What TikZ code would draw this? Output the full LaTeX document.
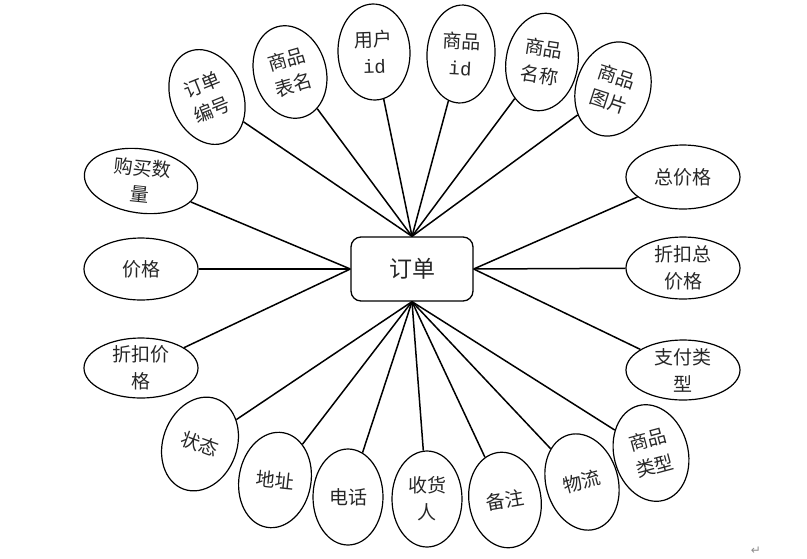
\documentclass[tikz,border=0pt]{standalone}
\usepackage{fontspec}
\newfontfamily\cjk{Noto Sans CJK SC}
\newfontfamily\monofnt{Liberation Mono}
\newfontfamily\symfnt{DejaVu Sans}
\usetikzlibrary{shapes.geometric}
\begin{document}
\begin{tikzpicture}[x=1pt,y=-1pt,
  attr/.style={draw, ellipse, line width=1.2pt, inner sep=0pt},
  lbl/.style={font=\cjk\fontsize{19}{27}\selectfont, align=center, inner sep=0pt, text=black!85},
  conn/.style={line width=1.5pt},
  mainbox/.style={draw, line width=1.3pt, rounded corners=10pt, minimum width=122pt, minimum height=64pt, font=\cjk\fontsize{23}{27}\selectfont, text=black!85}
]
\useasboundingbox (0,0) rectangle (807,558);
\node[mainbox] (c) at (412,269) {订单};
% top
\node[attr, minimum width=72pt, minimum height=98pt, rotate=22] (e1) at (207,97) {};
\node[lbl, rotate=22] (t1) at (e1) {订单\\编号};
\node[attr, minimum width=72pt, minimum height=94pt, rotate=16] (e2) at (290,72) {};
\node[lbl, rotate=16] (t2) at (e2) {商品\\表名};
\node[attr, minimum width=72pt, minimum height=96pt, rotate=2] (e3) at (374,52) {};
\node[lbl, rotate=2] (t3) at (e3) {用户\\{\monofnt id}};
\node[attr, minimum width=68pt, minimum height=98pt, rotate=-3] (e4) at (461,54) {};
\node[lbl, rotate=-3] (t4) at (e4) {商品\\{\monofnt id}};
\node[attr, minimum width=72pt, minimum height=98pt, rotate=-9] (e5) at (542,62) {};
\node[lbl, rotate=-9] (t5) at (e5) {商品\\名称};
\node[attr, minimum width=74pt, minimum height=96pt, rotate=-18] (e6) at (613,89) {};
\node[lbl, rotate=-18] (t6) at (e6) {商品\\图片};
% left
\node[attr, minimum width=114pt, minimum height=64pt, rotate=-8] (e7) at (141,181) {};
\node[lbl, rotate=-6] (t7) at (e7) {购买数\\量};
\node[attr, minimum width=114pt, minimum height=62pt] (e8) at (141,269) {};
\node[lbl] (t8) at (e8) {价格};
\node[attr, minimum width=114pt, minimum height=60pt] (e9) at (141,368) {};
\node[lbl] (t9) at (e9) {折扣价\\格};
% right
\node[attr, minimum width=114pt, minimum height=64pt] (e10) at (683,177) {};
\node[lbl] (t10) at (e10) {总价格};
\node[attr, minimum width=114pt, minimum height=62pt] (e11) at (683,268) {};
\node[lbl] (t11) at (e11) {折扣总\\价格};
\node[attr, minimum width=114pt, minimum height=60pt] (e12) at (683,370) {};
\node[lbl] (t12) at (e12) {支付类\\型};
% bottom
\node[attr, minimum width=74pt, minimum height=96pt, rotate=-20] (e13) at (200,444) {};
\node[lbl, rotate=-20] (t13) at (e13) {状态};
\node[attr, minimum width=72pt, minimum height=96pt, rotate=-10] (e14) at (275,480) {};
\node[lbl, rotate=-6] (t14) at (e14) {地址};
\node[attr, minimum width=70pt, minimum height=96pt] (e15) at (348,497) {};
\node[lbl] (t15) at (e15) {电话};
\node[attr, minimum width=70pt, minimum height=96pt] (e16) at (427,499) {};
\node[lbl] (t16) at (e16) {收货\\人};
\node[attr, minimum width=72pt, minimum height=96pt, rotate=9] (e17) at (505,500) {};
\node[lbl, rotate=10] (t17) at (e17) {备注};
\node[attr, minimum width=72pt, minimum height=98pt, rotate=16] (e18) at (582,482) {};
\node[lbl, rotate=15] (t18) at (e18) {物流};
\node[attr, minimum width=74pt, minimum height=98pt, rotate=15] (e19) at (651,453) {};
\node[lbl, rotate=15] (t19) at (e19) {商品\\类型};
% paragraph mark
\node[font=\symfnt\fontsize{12}{12}\selectfont, text=black!45, inner sep=0pt] (pm) at (756,551) {↵};
% connectors
\foreach \n in {e1,e2,e3,e4,e5,e6} \draw[conn] (c.north) -- (\n);
\foreach \n in {e7,e8,e9} \draw[conn] (c.west) -- (\n);
\foreach \n in {e10,e11,e12} \draw[conn] (c.east) -- (\n);
\foreach \n in {e13,e14,e15,e16,e17,e18,e19} \draw[conn] (c.south) -- (\n);
\end{tikzpicture}
\end{document}
